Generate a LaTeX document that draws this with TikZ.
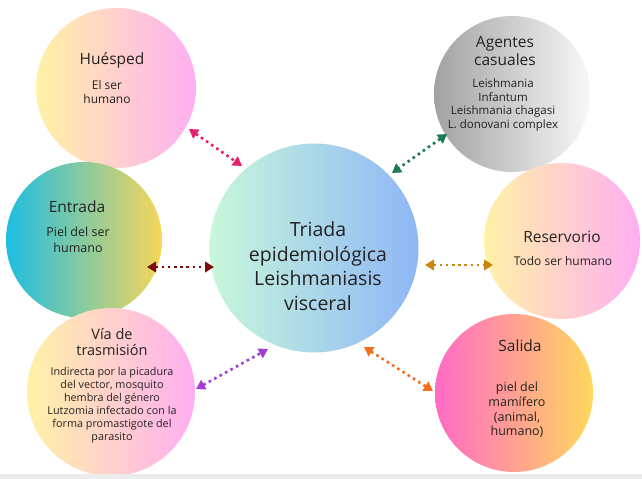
\documentclass[tikz,border=0pt]{standalone}
\usepackage{fontspec}
\setmainfont{Open Sans}
\usetikzlibrary{arrows.meta}
\definecolor{ink}{HTML}{222222}
\definecolor{cYel}{HTML}{FFF2A6}
\definecolor{cPink}{HTML}{FFAEF2}
\definecolor{cCyan}{HTML}{1DBEE2}
\definecolor{cGold}{HTML}{F7D65A}
\definecolor{cMint}{HTML}{C8F7DA}
\definecolor{cBlue}{HTML}{8FB6F6}
\definecolor{cGrayD}{HTML}{A2A2A2}
\definecolor{cGrayL}{HTML}{F8F8F8}
\definecolor{cHot}{HTML}{FF6AC6}
\definecolor{cSun}{HTML}{FFD85C}
\definecolor{aPink}{HTML}{E4206C}
\definecolor{aGreen}{HTML}{1A7A52}
\definecolor{aRed}{HTML}{7A0A0C}
\definecolor{aGold}{HTML}{C8860C}
\definecolor{aPurple}{HTML}{A23ED2}
\definecolor{aOrange}{HTML}{F06E1E}
\definecolor{band}{HTML}{ECECEC}
\begin{document}
\begin{tikzpicture}[x=1bp,y=-1bp,
  bubble/.style={circle, inner sep=0pt, minimum size=#1},
  ttl/.style={align=center, inner sep=0pt, text=ink, font=\fontsize{15.5bp}{18bp}\selectfont},
  bdy/.style={align=center, inner sep=0pt, text=ink, font=\fontsize{11.5bp}{13.4bp}\selectfont},
  link/.style={draw=#1, line width=2.6bp, dash pattern=on 2.6bp off 3.6bp,
     {Triangle[length=9bp,width=10.5bp,fill=#1]}-{Triangle[length=9bp,width=10.5bp,fill=#1]}}
]
\useasboundingbox (0,0) rectangle (642,479);
\fill[white] (0,0) rectangle (642,479);

% circles
\node[bubble=160bp, left color=cYel, right color=cPink] (hues) at (116,88) {};
\node[bubble=156bp, left color=cGrayD, right color=cGrayL] (agen) at (512,94) {};
\node[bubble=156bp, left color=cCyan, right color=cGold] (entr) at (84,240) {};
\node[bubble=209bp, left color=cMint, right color=cBlue] (tri) at (314,248) {};
\node[bubble=156bp, left color=cYel, right color=cPink] (rese) at (562,241) {};
\node[bubble=168bp, left color=cYel, right color=cPink] (via) at (111,392) {};
\node[bubble=158bp, left color=cHot, right color=cSun] (sali) at (514,393) {};

% texts
\node[ttl] (huesT) at (112,60) {Huésped};
\node[bdy, font=\fontsize{12bp}{14.5bp}\selectfont] (huesB) at (107,92) {El ser\\humano};
\node[ttl] (agenT) at (505,51) {Agentes\\casuales};
\node[bdy] (agenB) at (503,105) {Leishmania\\Infantum\\Leishmania chagasi\\L. donovani complex};
\node[ttl] (entrT) at (77,207) {Entrada};
\node[bdy, font=\fontsize{12.5bp}{16bp}\selectfont] (entrB) at (78,240) {Piel del ser\\humano};
\node[align=center, inner sep=0pt, text=ink, font=\fontsize{19.5bp}{24.6bp}\selectfont] (triT) at (318,266) {Triada\\epidemiológica\\Leishmaniasis\\visceral};
\node[ttl] (reseT) at (562,237) {Reservorio};
\node[bdy, font=\fontsize{12bp}{14bp}\selectfont] (reseB) at (563,261) {Todo ser humano};
\node[ttl, font=\fontsize{14.5bp}{16bp}\selectfont] (viaT) at (112,342) {Vía de\\trasmisión};
\node[bdy, font=\fontsize{10.8bp}{13bp}\selectfont] (viaB) at (112,405) {Indirecta por la picadura\\del vector, mosquito\\hembra del género\\Lutzomia infectado con la\\forma promastigote del\\parasito};
\node[ttl] (saliT) at (520,346) {Salida};
\node[bdy, font=\fontsize{12.5bp}{14.6bp}\selectfont] (saliB) at (517,410) {piel del\\mamífero\\(animal,\\humano)};

% arrow ends
\coordinate (p1) at (189,129); \coordinate (p2) at (242,166);
\coordinate (g1) at (447,134); \coordinate (g2) at (392,173);
\coordinate (r1) at (147,267); \coordinate (r2) at (214,267);
\coordinate (o1) at (425,265); \coordinate (o2) at (493,265);
\coordinate (v1) at (196,389); \coordinate (v2) at (268,349);
\coordinate (s1) at (364,347); \coordinate (s2) at (433,391);

\draw[link=aPink] (p1) -- (p2);
\draw[link=aGreen] (g1) -- (g2);
\draw[link=aRed] (r1) -- (r2);
\draw[link=aGold] (o1) -- (o2);
\draw[link=aPurple] (v1) -- (v2);
\draw[link=aOrange] (s1) -- (s2);

\fill[band] (0,474) rectangle (642,479);
\end{tikzpicture}
\end{document}
